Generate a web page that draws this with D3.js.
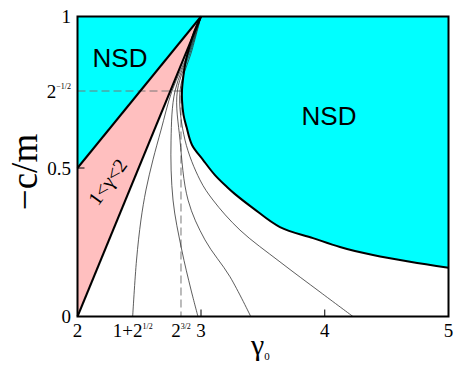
<!DOCTYPE html>
<html><head><meta charset="utf-8">
<script src="https://cdn.jsdelivr.net/npm/d3@7"></script>
<style>body{margin:0;background:#fff}</style>
</head><body>
<svg id="c" width="463" height="373"></svg>
<script>
// ---------- data ----------
const xTickValues = [2, 1 + Math.SQRT2, 2 * Math.SQRT2, 3, 4, 5];
const xTickLabels = [["2", ""], ["1+2", "1/2"], ["2", "3/2"], ["3", ""], ["4", ""], ["5", ""]];
const yTickValues = [0, 0.5, Math.SQRT1_2, 1];
const yTickLabels = [["0", ""], ["0.5", ""], ["2", "\u22121/2"], ["1", ""]];
const innerTicksX = [3, 4];
const innerTicksY = [0.5];

// region corners
const leftNSD = [[2, 0.5], [3, 1], [2, 1]];
const pinkRegion = [[2, 0], [3, 1], [2, 0.5]];
// thick boundary curve of the right NSD region
const nsdCurveX = [3, 2.948, 2.906, 2.871, 2.850, 2.837, 2.837, 2.850, 2.876, 2.923, 3.016, 3.113, 3.210, 3.275, 3.420, 3.638, 3.905, 4.123, 4.390, 4.689, 5.0];
const nsdCurveY = [1, 0.947, 0.888, 0.829, 0.770, 0.711, 0.683, 0.643, 0.610, 0.562, 0.522, 0.476, 0.436, 0.412, 0.365, 0.301, 0.264, 0.234, 0.207, 0.184, 0.164];
// thin contour lines fanning from (3,1)
const lineAX = [3, 2.901, 2.751, 2.657, 2.588, 2.528, 2.485, 2.447, 2.414];
const lineAY = [1, 0.868, 0.707, 0.602, 0.522, 0.426, 0.325, 0.190, 0];
const lineBX = [3, 2.906, 2.777, 2.743, 2.760, 2.835, 2.915, 2.974];
const lineBY = [1, 0.868, 0.707, 0.575, 0.392, 0.224, 0.089, 0];
const lineCX = [3, 2.914, 2.797, 2.820, 2.889, 3.032, 3.234, 3.402];
const lineCY = [1, 0.868, 0.707, 0.575, 0.392, 0.258, 0.134, 0];
const lineDX = [3, 2.923, 2.820, 2.863, 2.991, 3.097, 3.315, 3.638, 3.962, 4.228];
const lineDY = [1, 0.868, 0.707, 0.575, 0.460, 0.392, 0.291, 0.184, 0.0825, 0];
// dashed guide lines
const guideX = [2, 2 * Math.SQRT2, 2 * Math.SQRT2];
const guideY = [Math.SQRT1_2, Math.SQRT1_2, 0];

// ---------- drawing ----------
const svg = d3.select("#c");
const x = d3.scaleLinear().domain([2, 1 + Math.SQRT2, 3, 5]).range([77.5, 132.7, 201, 448.5]);
const y = d3.scaleLinear().domain([0, 0.5, Math.SQRT1_2, 1]).range([316.5, 168, 91, 16.5]);
const zip = (a, b) => a.map((v, i) => [v, b[i]]);
const line = d3.line().x(d => x(d[0])).y(d => y(d[1]));
const smooth = d3.line().x(d => x(d[0])).y(d => y(d[1])).curve(d3.curveCatmullRom.alpha(0.5));

const curve = zip(nsdCurveX, nsdCurveY);
svg.append("path")
  .attr("d", smooth(curve) + "L" + x(5) + "," + y(1) + "Z")
  .attr("fill", "#00ffff");
svg.append("path").attr("d", line(leftNSD) + "Z").attr("fill", "#00ffff");
svg.append("path").attr("d", line(pinkRegion) + "Z").attr("fill", "#ffbfbf");

svg.append("path").attr("d", line(zip(guideX, guideY)))
  .attr("fill", "none").attr("stroke", "#777").attr("stroke-width", 1)
  .attr("stroke-dasharray", "8,4");

[[lineAX, lineAY], [lineBX, lineBY], [lineCX, lineCY], [lineDX, lineDY]].forEach(([a, b]) => {
  svg.append("path").attr("d", smooth(zip(a, b)))
    .attr("fill", "none").attr("stroke", "#333").attr("stroke-width", 0.8);
});

svg.append("path").attr("d", line([pinkRegion[0], pinkRegion[1]]))
  .attr("fill", "none").attr("stroke", "#000").attr("stroke-width", 2);
svg.append("path").attr("d", line([pinkRegion[2], pinkRegion[1]]))
  .attr("fill", "none").attr("stroke", "#000").attr("stroke-width", 2);
svg.append("path").attr("d", smooth(curve))
  .attr("fill", "none").attr("stroke", "#000").attr("stroke-width", 2);

innerTicksX.forEach(v => svg.append("line")
  .attr("x1", x(v)).attr("x2", x(v)).attr("y1", y(0)).attr("y2", y(0) - 7)
  .attr("stroke", "#000").attr("stroke-width", 1));
innerTicksY.forEach(v => svg.append("line")
  .attr("x1", x(2)).attr("x2", x(2) + 7).attr("y1", y(v)).attr("y2", y(v))
  .attr("stroke", "#000").attr("stroke-width", 1));

svg.append("rect").attr("x", x(2)).attr("y", y(1))
  .attr("width", x(5) - x(2)).attr("height", y(0) - y(1))
  .attr("fill", "none").attr("stroke", "#000").attr("stroke-width", 2);

const serif = "'Liberation Serif','Times New Roman',serif";
xTickValues.forEach((v, i) => {
  const t = svg.append("text").attr("x", x(v)).attr("y", 337)
    .attr("text-anchor", "middle").attr("font-family", serif).attr("font-size", 19);
  t.append("tspan").text(xTickLabels[i][0]);
  if (xTickLabels[i][1]) t.append("tspan").attr("dy", -8).attr("font-size", 8).text(xTickLabels[i][1]);
});
yTickValues.forEach((v, i) => {
  const t = svg.append("text").attr("x", 71).attr("y", y(v) + 6.5)
    .attr("text-anchor", "end").attr("font-family", serif).attr("font-size", 19);
  t.append("tspan").text(yTickLabels[i][0]);
  if (yTickLabels[i][1]) t.append("tspan").attr("dy", -9).attr("font-size", 8).text(yTickLabels[i][1]);
});

svg.append("text").attr("transform", "translate(37,172) rotate(-90)")
  .attr("text-anchor", "middle").attr("font-family", serif).attr("font-size", 37).text("\u2212c/m");
const xt = svg.append("text").attr("x", 251).attr("y", 355).attr("font-family", serif).attr("font-size", 30);
xt.append("tspan").text("\u03b3");
xt.append("tspan").attr("dy", 5).attr("font-size", 11).text("0");

const sans = "'Liberation Sans',Arial,sans-serif";
svg.append("text").attr("x", 120).attr("y", 67).attr("text-anchor", "middle")
  .attr("font-family", sans).attr("font-size", 26).text("NSD");
svg.append("text").attr("x", 329).attr("y", 125).attr("text-anchor", "middle")
  .attr("font-family", sans).attr("font-size", 26).text("NSD");
svg.append("text").attr("transform", "translate(113,186) rotate(-54)")
  .attr("text-anchor", "middle").attr("font-family", serif).attr("font-size", 20).text("1<\u03b3<2");
</script>
</body></html>
